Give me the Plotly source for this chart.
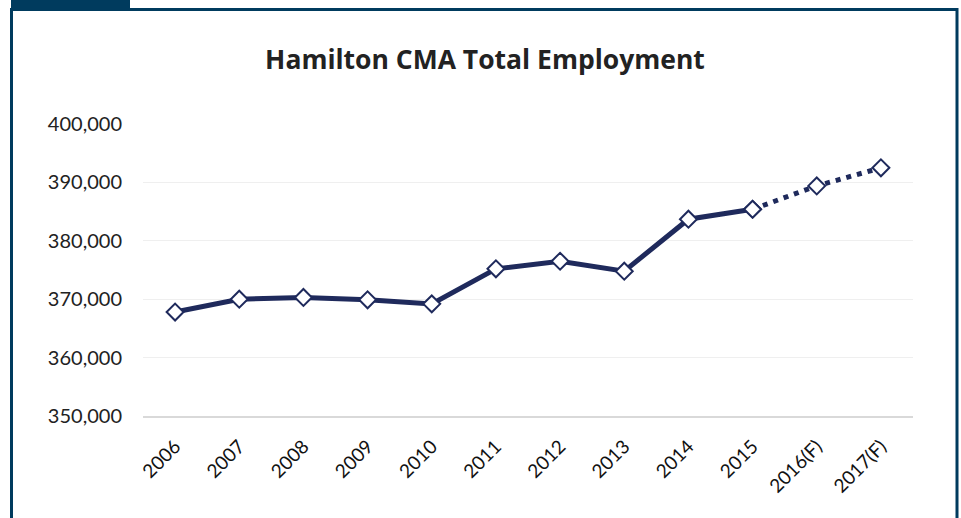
import plotly.graph_objects as go

years = ["2006", "2007", "2008", "2009", "2010", "2011", "2012", "2013", "2014", "2015", "2016(F)", "2017(F)"]
actual = [367800, 370000, 370300, 369900, 369200, 375200, 376500, 374800, 383700, 385400]
forecast_years = ["2015", "2016(F)", "2017(F)"]
forecast = [385400, 389400, 392500]

navy = "#1f2a5c"
frame = "#003b5e"
W, H = 961, 518

fig = go.Figure()
fig.add_trace(go.Scatter(
    x=forecast_years, y=forecast, mode="lines+markers",
    line=dict(color=navy, width=5, dash="5px,6px"),
    marker=dict(symbol="diamond", size=13, color="white", line=dict(color=navy, width=2)),
    showlegend=False, hoverinfo="skip"))
fig.add_trace(go.Scatter(
    x=years[:len(actual)], y=actual, mode="lines+markers",
    line=dict(color=navy, width=5),
    marker=dict(symbol="diamond", size=13, color="white", line=dict(color=navy, width=2)),
    showlegend=False))

def px_x(p):
    return p / W

def px_y(p):
    return 1 - p / H

fig.update_layout(
    width=W, height=H,
    margin=dict(l=0, r=0, t=0, b=0),
    paper_bgcolor="white", plot_bgcolor="white",
    font=dict(family="Lato, 'Open Sans', sans-serif", color="#222222", size=20),
    title=dict(text="<b>Hamilton CMA Total Employment</b>", x=485 / W, xanchor="center",
               y=px_y(60), yanchor="middle",
               font=dict(family="'Open Sans', Lato, sans-serif", size=26.5, color="#222222")),
    xaxis=dict(
        domain=[px_x(143), px_x(913)],
        categoryorder="array", categoryarray=years,
        range=[-0.5, 11.5], tickangle=-45, showgrid=False,
        showline=True, linecolor="#d9d9d9", linewidth=2,
        ticks="", ticklabelstandoff=10,
        tickfont=dict(size=19, color="#111111"), automargin=False,
    ),
    yaxis=dict(
        domain=[px_y(416), px_y(124)],
        range=[350000, 400000], dtick=10000, tickformat=",",
        showgrid=True, gridcolor="#efefef", gridwidth=1,
        zeroline=False, ticks="", ticklabelstandoff=20,
        tickfont=dict(size=20, color="#222222"), automargin=False,
    ),
    shapes=[
        dict(type="rect", xref="paper", yref="paper", x0=px_x(11), x1=px_x(130),
             y0=px_y(9), y1=px_y(0), fillcolor=frame, line=dict(width=0), layer="above"),
        dict(type="line", xref="paper", yref="paper", x0=px_x(11), x1=px_x(958),
             y0=px_y(9.5), y1=px_y(9.5), line=dict(color=frame, width=3)),
        dict(type="line", xref="paper", yref="paper", x0=px_x(11.5), x1=px_x(11.5),
             y0=px_y(8), y1=0, line=dict(color=frame, width=3)),
        dict(type="line", xref="paper", yref="paper", x0=px_x(957), x1=px_x(957),
             y0=px_y(8), y1=0, line=dict(color=frame, width=3)),
    ],
)

fig.write_html("out.html")
